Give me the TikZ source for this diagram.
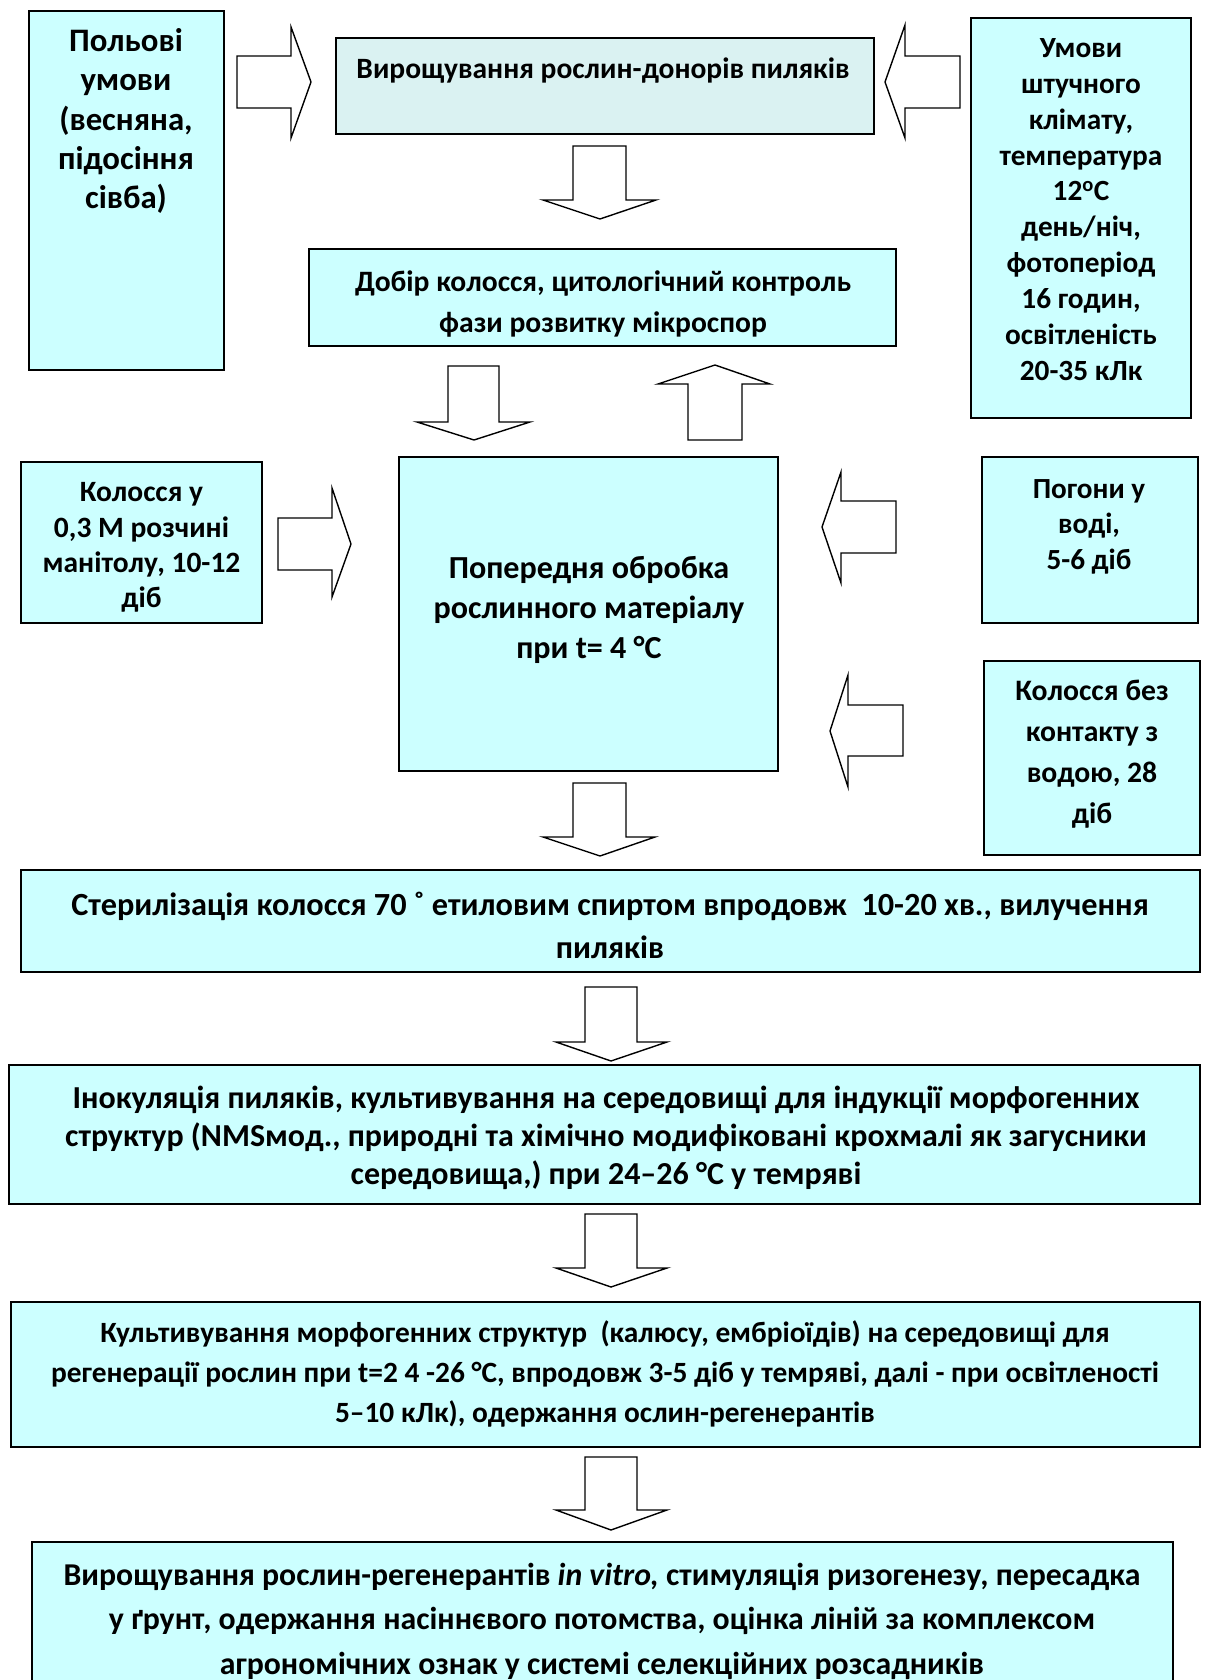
\documentclass[tikz,border=0pt]{standalone}
\usepackage{fontspec}
\setmainfont{Carlito}
\usetikzlibrary{fit}
\definecolor{boxfill}{HTML}{CCFFFF}
\definecolor{topfill}{HTML}{DAF2F2}
\tikzset{
  box/.style={draw=black, line width=2pt, fill=boxfill, inner sep=0pt, outer sep=0pt},
  txt/.style={align=center, inner sep=0pt},
  blk/.style={draw=black, line width=1.4pt, fill=white, line join=miter},
}
\newcommand\fsz[2]{\fontsize{#1}{#2}\selectfont\bfseries}
\begin{document}
\begin{tikzpicture}[x=1pt,y=-1pt]
\useasboundingbox[fill=white] (0,0) rectangle (1205,1680);
\clip (0,0) rectangle (1205,1680);

% boxes
\node[box, fit={(29,11)(224,370)}] (b1) {};
\node[box, fill=topfill, fit={(336,38)(874,134)}] (b2) {};
\node[box, fit={(971,18)(1191,418)}] (b3) {};
\node[box, fit={(309,249)(896,346)}] (b4) {};
\node[box, fit={(21,462)(262,623)}] (b5) {};
\node[box, fit={(399,457)(778,771)}] (b6) {};
\node[box, fit={(982,457)(1198,623)}] (b7) {};
\node[box, fit={(984,661)(1200,855)}] (b8) {};
\node[box, fit={(21,870)(1200,972)}] (b9) {};
\node[box, fit={(9,1065)(1200,1204)}] (b10) {};
\node[box, fit={(11,1302)(1200,1447)}] (b11) {};
\node[box, fit={(32,1542)(1173,1700)}] (b12) {};

% texts
\node[txt, font=\fsz{32.8}{39.3}] (t1) at (126,121) {Польові\\умови\\(весняна,\\підосіння\\сівба)};
\node[txt, font=\fsz{29.5}{34}] (t2) at (603,70.5) {Вирощування рослин-донорів пиляків};
\node[txt, font=\fsz{29.3}{35.9}] (t3) at (1081,209.5) {Умови\\штучного\\клімату,\\температура\\12\textsuperscript{o}C\\день/ніч,\\фотоперіод\\16 годин,\\освітленість\\20-35 кЛк};
\node[txt, font=\fsz{29.6}{41}] (t4) at (603,303.5) {Добір колосся, цитологічний контроль\\фази розвитку мікроспор};
\node[txt, font=\fsz{29.5}{35.4}] (t5) at (141.5,547.6) {Колосся у\\0,3 М розчині\\манітолу, 10-12\\діб};
\node[txt, font=\fsz{32.1}{40}] (t6) at (589,610) {Попередня обробка\\рослинного матеріалу\\при t= 4 °С};
\node[txt, font=\fsz{29.2}{35.3}] (t7) at (1089,526.7) {Погони у\\воді,\\5-6 діб};
\node[txt, font=\fsz{29.7}{41}] (t8) at (1092,754.5) {Колосся без\\контакту з\\водою, 28\\діб};
\node[txt, font=\fsz{32.3}{43}] (t9) at (610,925) {Стерилізація колосся 70 ˚ етиловим спиртом впродовж\ \ 10-20 хв., вилучення\\пиляків};
\node[txt, font=\fsz{32}{38}] (t10) at (606,1138) {Інокуляція пиляків, культивування на середовищі для індукції морфогенних\\структур (NMSмод., природні та хімічно модифіковані крохмалі як загусники\\середовища,) при 24–26 °С у темряві};
\node[txt, font=\fsz{29.4}{40}] (t11) at (605,1374) {Культивування морфогенних структур\ \ (калюсу, ембріоїдів) на середовищі для\\регенерації рослин при t=2 4 -26 °С, впродовж 3-5 діб у темряві, далі - при освітленості\\5–10 кЛк), одержання ослин-регенерантів};
\node[txt, font=\fsz{31.8}{44.5}] (t12) at (602,1621) {Вирощування рослин-регенерантів \textit{in vitro,} стимуляція ризогенезу, пересадка\\у ґрунт, одержання насіннєвого потомства, оцінка ліній за комплексом\\агрономічних ознак у системі селекційних розсадників};

% block arrows
\draw[blk] (237,56) -- (291,56) -- (291,27) -- (311,82) -- (291,138) -- (291,108) -- (237,108) -- cycle;
\draw[blk] (960,56) -- (905,56) -- (905,25) -- (885,82) -- (905,138) -- (905,108) -- (960,108) -- cycle;
\draw[blk] (573,146) -- (626,146) -- (626,200) -- (656,200) -- (600,219) -- (543,200) -- (573,200) -- cycle;
\draw[blk] (448,366) -- (499,366) -- (499,422) -- (530,422) -- (474,440) -- (417,422) -- (448,422) -- cycle;
\draw[blk] (688,440) -- (742,440) -- (742,384) -- (770,384) -- (715,365) -- (658,384) -- (688,384) -- cycle;
\draw[blk] (278,518) -- (332,518) -- (332,488) -- (351,544) -- (332,597) -- (332,570) -- (278,570) -- cycle;
\draw[blk] (896,501) -- (841,501) -- (841,472) -- (822,527) -- (841,583) -- (841,553) -- (896,553) -- cycle;
\draw[blk] (903,705) -- (848,705) -- (848,675) -- (830,731) -- (848,787) -- (848,756) -- (903,756) -- cycle;
\draw[blk] (573,783) -- (626,783) -- (626,837) -- (655,837) -- (600,856) -- (543,837) -- (573,837) -- cycle;
\draw[blk] (585,987) -- (637,987) -- (637,1042) -- (667,1042) -- (611,1061) -- (556,1042) -- (585,1042) -- cycle;
\draw[blk] (585,1214) -- (637,1214) -- (637,1268) -- (667,1268) -- (611,1287) -- (556,1268) -- (585,1268) -- cycle;
\draw[blk] (585,1457) -- (637,1457) -- (637,1510) -- (667,1510) -- (611,1530) -- (556,1510) -- (585,1510) -- cycle;
\end{tikzpicture}
\end{document}
